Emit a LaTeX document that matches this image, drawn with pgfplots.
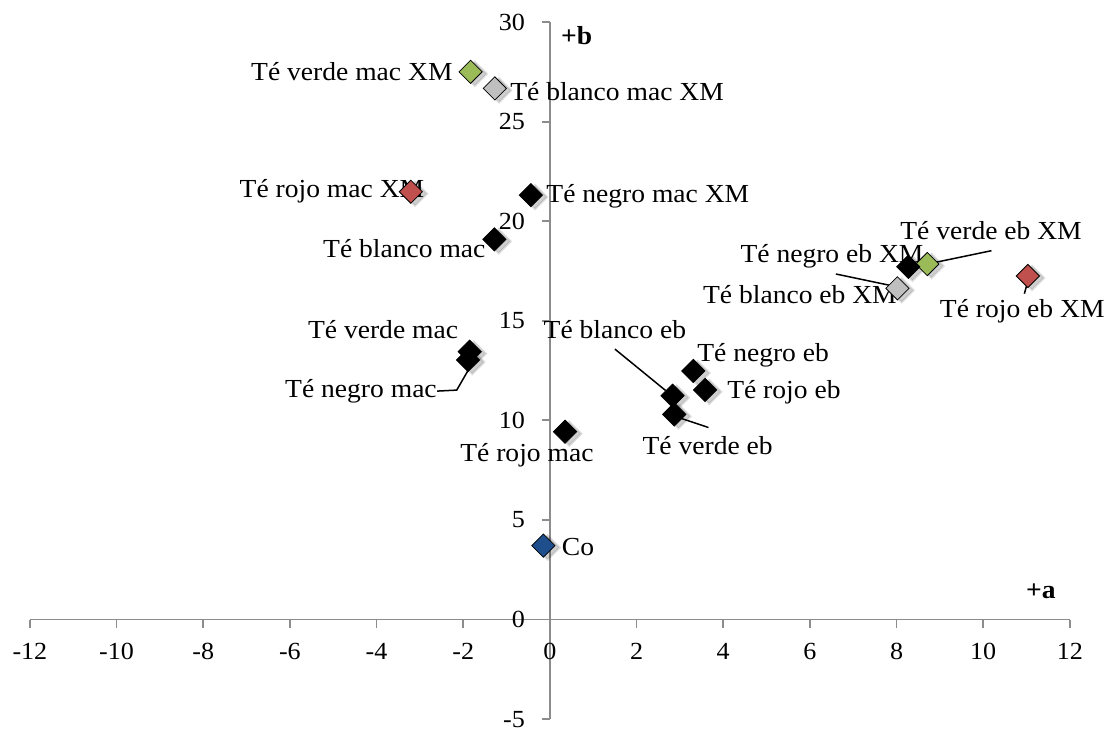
\documentclass[border=0pt]{standalone}
\usepackage{fontspec}
\setmainfont[FakeStretch=1.06]{Liberation Serif}
\usepackage{pgfplots}
\pgfplotsset{compat=1.18}
\definecolor{cgreen}{HTML}{9BBB59}
\definecolor{cgray}{HTML}{BFBFBF}
\definecolor{cred}{HTML}{C0504D}
\definecolor{cblue}{HTML}{1F4E8C}
\definecolor{axgray}{HTML}{8C8C8C}
\begin{document}
\begin{tikzpicture}[font=\fontsize{13}{15}\selectfont]
\begin{axis}[
  scale only axis, width=520pt, height=348.5pt,
  xmin=-12, xmax=12, ymin=-5, ymax=30,
  axis lines=middle,
  axis line style={draw=axgray, line width=0.9pt, -},
  xtick={-12,-10,...,12}, ytick={-5,0,...,30},
  hide obscured x ticks=false, hide obscured y ticks=false,
  tick align=outside, major tick length=4pt,
  tick style={axgray, line width=0.9pt},
  /pgf/number format/assume math mode=true,
  tick label style={font=\fontsize{12.3}{14}\selectfont},
  xticklabel style={yshift=-4.5pt},
  yticklabel style={xshift=-5pt},
  clip=false,
  every axis plot/.append style={only marks, mark=square*, mark size=4.1pt},
  dm/.style={mark options={fill=#1, draw=none, rotate=45}},
  sh/.style={mark options={fill=black, draw=none, rotate=45, opacity=#1, xshift=0.8pt, yshift=-2.2pt}},
]
% soft shadows of the markers
\addplot[sh=0.08, mark size=4.6pt] coordinates {(-1.83,27.50) (8.71,17.85) (-1.27,26.67) (8.02,16.63)
  (-3.21,21.48) (11.03,17.25) (-0.15,3.71)
  (-0.44,21.31) (-1.28,19.09) (-1.85,13.45) (-1.89,13.03) (0.35,9.43)
  (2.83,11.24) (2.87,10.30) (3.31,12.48) (3.58,11.53) (8.27,17.71)};
\addplot[sh=0.12, mark size=4.0pt] coordinates {(-1.83,27.50) (8.71,17.85) (-1.27,26.67) (8.02,16.63)
  (-3.21,21.48) (11.03,17.25) (-0.15,3.71)
  (-0.44,21.31) (-1.28,19.09) (-1.85,13.45) (-1.89,13.03) (0.35,9.43)
  (2.83,11.24) (2.87,10.30) (3.31,12.48) (3.58,11.53) (8.27,17.71)};
% coloured series
\addplot[dm=cgreen] coordinates {(-1.83,27.50) (8.71,17.85)};
\addplot[dm=cgray] coordinates {(-1.27,26.67) (8.02,16.63)};
\addplot[dm=cred] coordinates {(-3.21,21.48) (11.03,17.25)};
\addplot[dm=cblue] coordinates {(-0.15,3.71)};
% black series
\addplot[dm=black] coordinates {
  (-0.44,21.31) (-1.28,19.09) (-1.85,13.45) (-1.89,13.03) (0.35,9.43)
  (2.83,11.24) (2.87,10.30) (3.31,12.48) (3.58,11.53) (8.27,17.71)};

% leader lines
\draw[line width=0.75pt] (axis cs:-2.60,11.47) -- (axis cs:-2.15,11.52) -- (axis cs:-1.89,12.5);
\draw[line width=0.75pt] (axis cs:1.50,13.58) -- (axis cs:2.67,11.50);
\draw[line width=0.75pt] (axis cs:3.04,10.09) -- (axis cs:3.66,9.64);
\draw[line width=0.75pt] (axis cs:8.71,17.85) -- (axis cs:10.19,18.52);
\draw[line width=0.75pt] (axis cs:6.60,17.35) -- (axis cs:7.98,16.72);
\draw[line width=0.75pt] (axis cs:11.03,17.0) -- (axis cs:10.95,16.36);

% data labels
\node at (axis cs:-4.57,27.50) {Té verde mac XM};
\node at (axis cs:1.55,26.50) {Té blanco mac XM};
\node at (axis cs:-5.03,21.53) {Té rojo mac XM};
\node at (axis cs:2.26,21.27) {Té negro mac XM};
\node at (axis cs:-3.36,18.61) {Té blanco mac};
\node at (axis cs:-3.85,14.55) {Té verde mac};
\node at (axis cs:-4.36,11.44) {Té negro mac};
\node at (axis cs:-0.53,8.23) {Té rojo mac};
\node at (axis cs:1.50,14.55) {Té blanco eb};
\node at (axis cs:4.92,13.25) {Té negro eb};
\node at (axis cs:5.40,11.39) {Té rojo eb};
\node at (axis cs:3.64,8.73) {Té verde eb};
\node at (axis cs:0.65,3.66) {Co};
\node at (axis cs:10.18,19.52) {Té verde eb XM};
\node at (axis cs:6.51,18.26) {Té negro eb XM};
\node at (axis cs:5.77,16.31) {Té blanco eb XM};
\node at (axis cs:10.90,15.50) {Té rojo eb XM};

% axis names
\node[font=\fontsize{13}{15}\selectfont\bfseries] at (axis cs:0.62,29.30) {+b};
\node[font=\fontsize{13}{15}\selectfont\bfseries] at (axis cs:11.33,1.40) {+a};

\coordinate (bbl) at (axis cs:-12.69,-5.68);
\coordinate (bbr) at (axis cs:12.88,31.11);
\end{axis}
\pgfresetboundingbox
\path[use as bounding box] (bbl) rectangle (bbr);
\end{tikzpicture}
\end{document}
